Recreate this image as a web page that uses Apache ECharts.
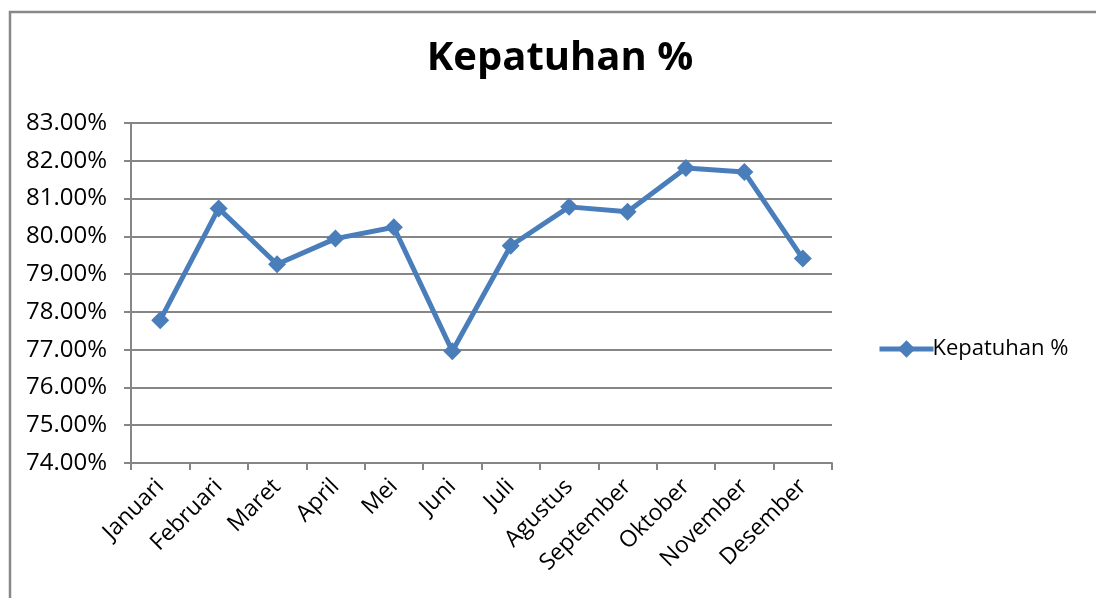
<!DOCTYPE html>
<html>
<head>
<meta charset="utf-8">
<script src="https://cdn.jsdelivr.net/npm/echarts@6/dist/echarts.min.js"></script>
<style>
  html, body { margin: 0; padding: 0; background: #fff; }
  #chart { width: 1096px; height: 598px; }
</style>
</head>
<body>
<div id="chart"></div>
<script>
// bulan
const months = ['Januari', 'Februari', 'Maret', 'April', 'Mei', 'Juni', 'Juli',
  'Agustus', 'September', 'Oktober', 'November', 'Desember'];
// kepatuhan dalam persen
const kepatuhan = [77.78, 80.74, 79.26, 79.94, 80.24, 76.96, 79.75, 80.78, 80.65, 81.81, 81.70, 79.41];
const yMin = 74, yMax = 83, yStep = 1;

const chart = echarts.init(document.getElementById('chart'));
const gray = '#868686';
const fontFam = '"Open Sans", sans-serif';

chart.setOption({
  animation: false,
  backgroundColor: '#fff',
  title: {
    text: 'Kepatuhan %',
    left: 555,
    textAlign: 'center',
    top: 34,
    textStyle: { fontFamily: fontFam, fontSize: 40, fontWeight: 'bold', color: '#000' }
  },
  // bingkai area grafik
  graphic: [{
    type: 'polyline',
    shape: { points: [[10, 610], [10, 12], [1110, 12]] },
    style: { stroke: '#888', lineWidth: 2.5, fill: null }
  }],
  legend: {
    left: 872,
    top: 333,
    itemWidth: 54,
    itemHeight: 22,
    itemGap: 4,
    data: ['Kepatuhan %'],
    lineStyle: { width: 5 },
    textStyle: { fontFamily: fontFam, fontSize: 22, color: '#000', padding: [0, 0, 0, -6] }
  },
  grid: { left: 131, right: 264, top: 123, bottom: 135 },
  xAxis: {
    type: 'category',
    data: months,
    boundaryGap: true,
    axisLine: { lineStyle: { color: gray, width: 2 } },
    axisTick: { show: true, length: 7, lineStyle: { color: gray, width: 2 } },
    axisLabel: {
      interval: 0,
      rotate: 45,
      margin: 20,
      fontFamily: fontFam,
      fontSize: 23,
      color: '#000'
    }
  },
  yAxis: {
    type: 'value',
    min: yMin,
    max: yMax,
    interval: yStep,
    axisLine: { show: true, lineStyle: { color: gray, width: 2 } },
    axisTick: { show: true, length: 7, lineStyle: { color: gray, width: 2 } },
    splitLine: { lineStyle: { color: gray, width: 2 } },
    axisLabel: {
      margin: 24,
      fontFamily: fontFam,
      fontSize: 24,
      color: '#000',
      formatter: function (v) { return v.toFixed(2) + '%'; }
    }
  },
  series: [{
    name: 'Kepatuhan %',
    type: 'line',
    data: kepatuhan,
    symbol: 'diamond',
    symbolSize: 18,
    itemStyle: { color: '#4a7ebb' },
    lineStyle: { color: '#4a7ebb', width: 5 }
  }]
});
</script>
</body>
</html>
